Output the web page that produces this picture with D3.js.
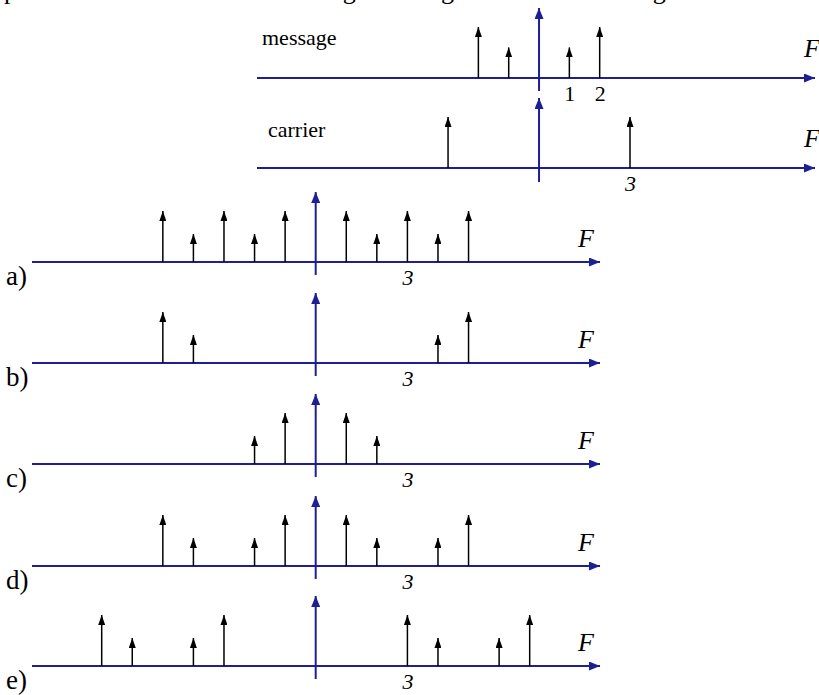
<!DOCTYPE html>
<html lang="en">
<head>
    <meta charset="UTF-8">
    <title>Spectra</title>
    <script src="https://d3js.org/d3.v7.min.js"></script>
    <style>
        body { margin: 0; background: #fff; }
        text { font-family: "Liberation Serif", "DejaVu Serif", serif; }
    </style>
</head>
<body>

<script>
    // message and carrier spectra (frequency, relative height)
    var messageFreq = [-2, -1, 1, 2];
    var messageAmp = [1, 0.6, 0.6, 1];
    var messageTicks = [1, 2];

    var carrierFreq = [-3, 3];
    var carrierAmp = [1, 1];
    var carrierTicks = [3];

    // answer choices
    var choiceLabels = ["a)", "b)", "c)", "d)", "e)"];
    var freqA = [-5, -4, -3, -2, -1, 1, 2, 3, 4, 5];
    var ampA = [1, 0.55, 1, 0.55, 1, 1, 0.55, 1, 0.55, 1];
    var freqB = [-5, -4, 4, 5];
    var ampB = [1, 0.55, 0.55, 1];
    var freqC = [-2, -1, 1, 2];
    var ampC = [0.55, 1, 1, 0.55];
    var freqD = [-5, -4, -2, -1, 1, 2, 4, 5];
    var ampD = [1, 0.55, 0.55, 1, 1, 0.55, 0.55, 1];
    var freqE = [-7, -6, -4, -3, 3, 4, 6, 7];
    var ampE = [1, 0.55, 0.55, 1, 1, 0.55, 0.55, 1];
    var choiceTicks = [3];

    var width = 819;
    var height = 695;
    var blue = "#1e1e96";

    var svg = d3.select("body").append("svg")
        .attr("width", width)
        .attr("height", height);

    var defs = svg.append("defs");
    // arrow heads, sizes in pixels
    function head(id, color, len, wid) {
        defs.append("marker")
            .attr("id", id)
            .attr("viewBox", "0 0 " + len + " " + wid)
            .attr("refX", len).attr("refY", wid / 2)
            .attr("markerWidth", len).attr("markerHeight", wid)
            .attr("markerUnits", "userSpaceOnUse")
            .attr("orient", "auto")
            .append("path")
            .attr("d", "M0,0 L" + len + "," + (wid / 2) + " L0," + wid + " Z")
            .attr("fill", color);
    }
    head("blueHead", blue, 11, 9);
    head("blackHead", "#000", 10, 7);

    // cut-off sentence at the very top (only descenders show)
    svg.append("text")
        .attr("x", 4).attr("y", -1)
        .attr("font-size", 26)
        .attr("word-spacing", 15)
        .text("performed with the following message and carrier signals:");

    // one spectrum panel
    function drawPanel(opts) {
        var x = d3.scaleLinear().domain(opts.domain).range(opts.range);
        var y = d3.scaleLinear().domain([0, 1]).range([opts.axisY, opts.axisY - 51]);
        var g = svg.append("g");

        // horizontal axis with arrow
        g.append("line")
            .attr("x1", opts.range[0]).attr("x2", opts.range[1])
            .attr("y1", opts.axisY).attr("y2", opts.axisY)
            .attr("stroke", blue).attr("stroke-width", 2)
            .attr("marker-end", "url(#blueHead)");

        // vertical axis with arrow
        g.append("line")
            .attr("x1", x(0)).attr("x2", x(0))
            .attr("y1", opts.axisY + opts.below).attr("y2", opts.axisY - 70)
            .attr("stroke", blue).attr("stroke-width", 2)
            .attr("marker-end", "url(#blueHead)");

        // impulses
        g.selectAll(".imp")
            .data(opts.freq)
            .enter().append("line")
            .attr("class", "imp")
            .attr("x1", (d) => x(d)).attr("x2", (d) => x(d))
            .attr("y1", opts.axisY)
            .attr("y2", (d, i) => y(opts.amp[i]))
            .attr("stroke", "#000").attr("stroke-width", 1.5)
            .attr("marker-end", "url(#blackHead)");

        // tick labels via axis
        var ax = g.append("g")
            .attr("transform", "translate(0," + opts.axisY + ")")
            .call(d3.axisBottom(x).tickValues(opts.ticks).tickSize(0).tickPadding(7).tickFormat(d3.format("d")));
        ax.select(".domain").remove();
        ax.selectAll("text")
            .attr("font-family", "Liberation Serif, serif")
            .attr("font-size", 22)
            .attr("font-style", opts.italicTicks ? "italic" : null)
            .attr("fill", "#000");

        // F label
        g.append("text")
            .attr("x", opts.range[1] + opts.fDx).attr("y", opts.axisY - opts.fDy)
            .attr("font-size", 26).attr("font-style", "italic")
            .attr("text-anchor", "middle")
            .text("F");

        if (opts.name) {
            g.append("text")
                .attr("x", opts.nameX).attr("y", opts.axisY - opts.nameDy)
                .attr("font-size", 22)
                .text(opts.name);
        }
        if (opts.label) {
            g.append("text")
                .attr("x", 6).attr("y", opts.axisY + 23)
                .attr("font-size", 27)
                .text(opts.label);
        }
    }

    drawPanel({ domain: [-9.3, 9.1], range: [257, 815], axisY: 78, below: 13,
        freq: messageFreq, amp: messageAmp, ticks: messageTicks, fDx: -3, fDy: 21,
        name: "message", nameX: 262, nameDy: 33 });
    drawPanel({ domain: [-9.3, 9.1], range: [257, 815], axisY: 168, below: 14,
        freq: carrierFreq, amp: carrierAmp, ticks: carrierTicks, fDx: -3, fDy: 21,
        name: "carrier", nameX: 268, nameDy: 31, italicTicks: true });

    var choiceFreq = [freqA, freqB, freqC, freqD, freqE];
    var choiceAmp = [ampA, ampB, ampC, ampD, ampE];
    var choiceAxisY = [262, 363, 464, 566, 666];
    choiceLabels.forEach(function (lab, i) {
        drawPanel({ domain: [-9.28, 9.3], range: [32, 600], axisY: choiceAxisY[i], below: 13,
            freq: choiceFreq[i], amp: choiceAmp[i], ticks: choiceTicks, fDx: -14, fDy: 15,
            label: lab, italicTicks: true });
    });
</script>

</body>
</html>
